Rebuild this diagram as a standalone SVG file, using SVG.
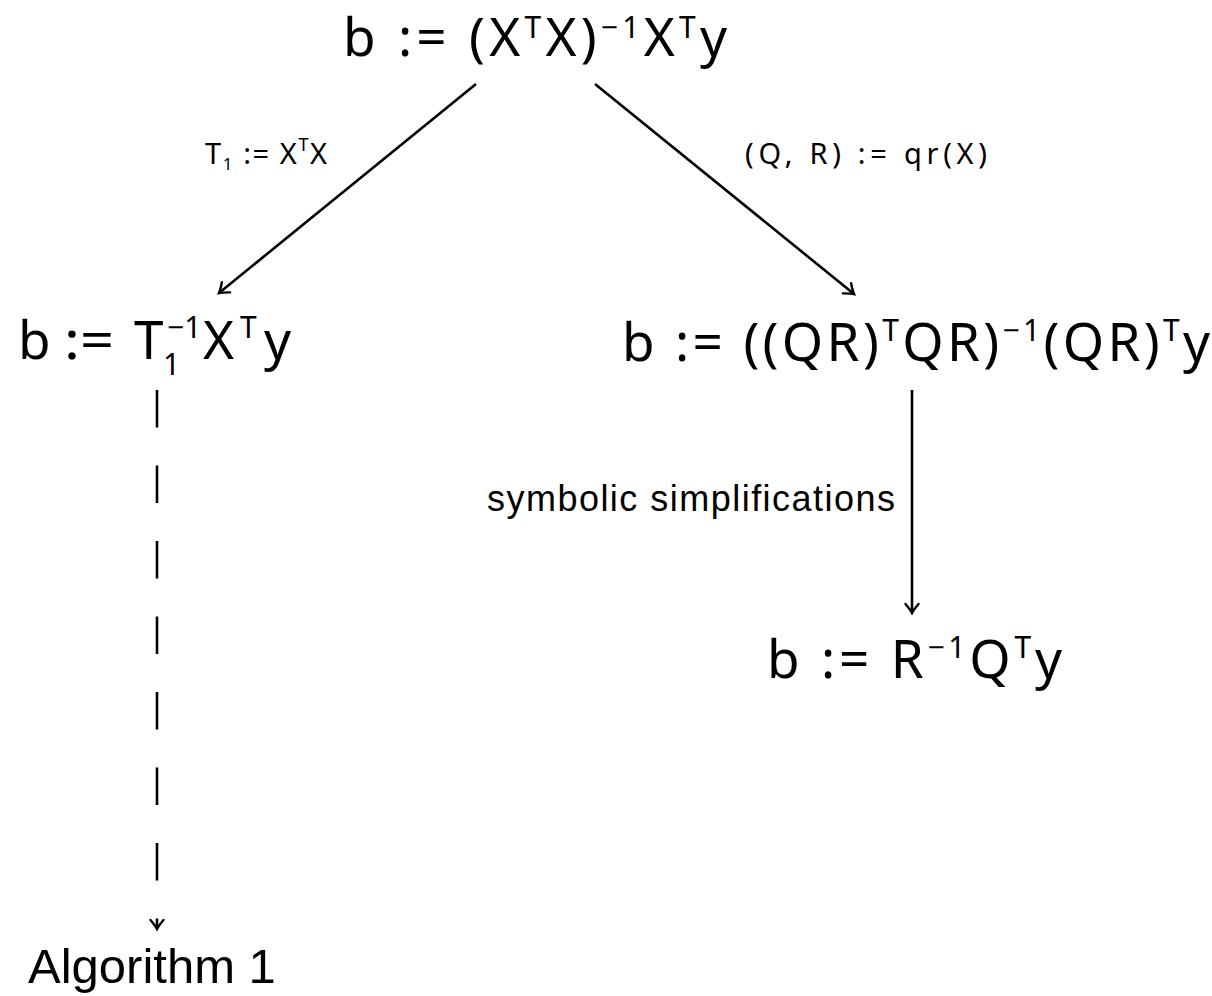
<svg xmlns="http://www.w3.org/2000/svg" width="1212" height="996" viewBox="0 0 1212 996">
<style>
.m{font-family:"Noto Sans","DejaVu Sans",sans-serif;fill:#000}
.big{font-size:53px}
.sup{font-size:30px}
.lbl{font-size:29px}
.s{font-family:"Liberation Sans",Arial,sans-serif;fill:#000}
.e{fill:none;stroke:#000;stroke-width:2.6}
</style>
<defs>
<marker id="ah" markerUnits="userSpaceOnUse" viewBox="-12 -9 16 18" markerWidth="16" markerHeight="18" refX="0" refY="0" orient="auto">
<path d="M -9 -6.5 Q -3 -1.5 0 0 Q -3 1.5 -9 6.5" fill="none" stroke="#000" stroke-width="2.4" stroke-linecap="round"/>
</marker>
</defs>
<g id="edges">
<line class="e" x1="476" y1="84" x2="219" y2="293" marker-end="url(#ah)"/>
<line class="e" x1="595" y1="84" x2="854" y2="294" marker-end="url(#ah)"/>
<line class="e" x1="912" y1="390" x2="912" y2="613" marker-end="url(#ah)"/>
<line class="e" x1="157" y1="390" x2="157" y2="929" stroke-dasharray="37.5 38" marker-end="url(#ah)"/>
<text class="m lbl" x="205" y="164" textLength="122" lengthAdjust="spacing">T<tspan dy="6" font-size="17">1</tspan><tspan dy="-6"> := X</tspan><tspan dy="-13" font-size="18">T</tspan><tspan dy="13">X</tspan></text>
<text class="m lbl" x="745" y="164" textLength="242" lengthAdjust="spacing">(Q, R) := qr(X)</text>
<text class="s" x="487" y="511" font-size="36" textLength="408" lengthAdjust="spacing">symbolic simplifications</text>
</g>
<g id="n1">
<text class="m big" x="343" y="56" textLength="384" lengthAdjust="spacing">b := (X<tspan class="sup" dy="-18">T</tspan><tspan dy="18">X)</tspan><tspan class="sup" dy="-18">−1</tspan><tspan dy="18">X</tspan><tspan class="sup" dy="-18">T</tspan><tspan dy="18">y</tspan></text>
</g>
<g id="n2">
<text class="m big" x="18" y="359">b</text>
<text class="m big" x="64" y="359" textLength="50" lengthAdjust="spacingAndGlyphs">:=</text>
<text class="m big" x="134" y="359">T</text>
<text class="m sup" x="163" y="375">1</text>
<text class="m sup" x="167" y="338">−1</text>
<text class="m big" x="203" y="359">X</text>
<text class="m sup" x="240" y="338">T</text>
<text class="m big" x="264" y="359">y</text>
</g>
<g id="n3">
<text class="m big" x="622" y="361" textLength="588" lengthAdjust="spacing">b := ((QR)<tspan class="sup" dy="-20">T</tspan><tspan dy="20">QR)</tspan><tspan class="sup" dy="-20">−1</tspan><tspan dy="20">(QR)</tspan><tspan class="sup" dy="-20">T</tspan><tspan dy="20">y</tspan></text>
</g>
<g id="n4">
<text class="m big" x="767" y="678" textLength="295" lengthAdjust="spacing">b := R<tspan class="sup" dy="-20">−1</tspan><tspan dy="20">Q</tspan><tspan class="sup" dy="-20">T</tspan><tspan dy="20">y</tspan></text>
</g>
<g id="n5">
<text class="s" x="28" y="983" font-size="49">Algorithm 1</text>
</g>
</svg>
